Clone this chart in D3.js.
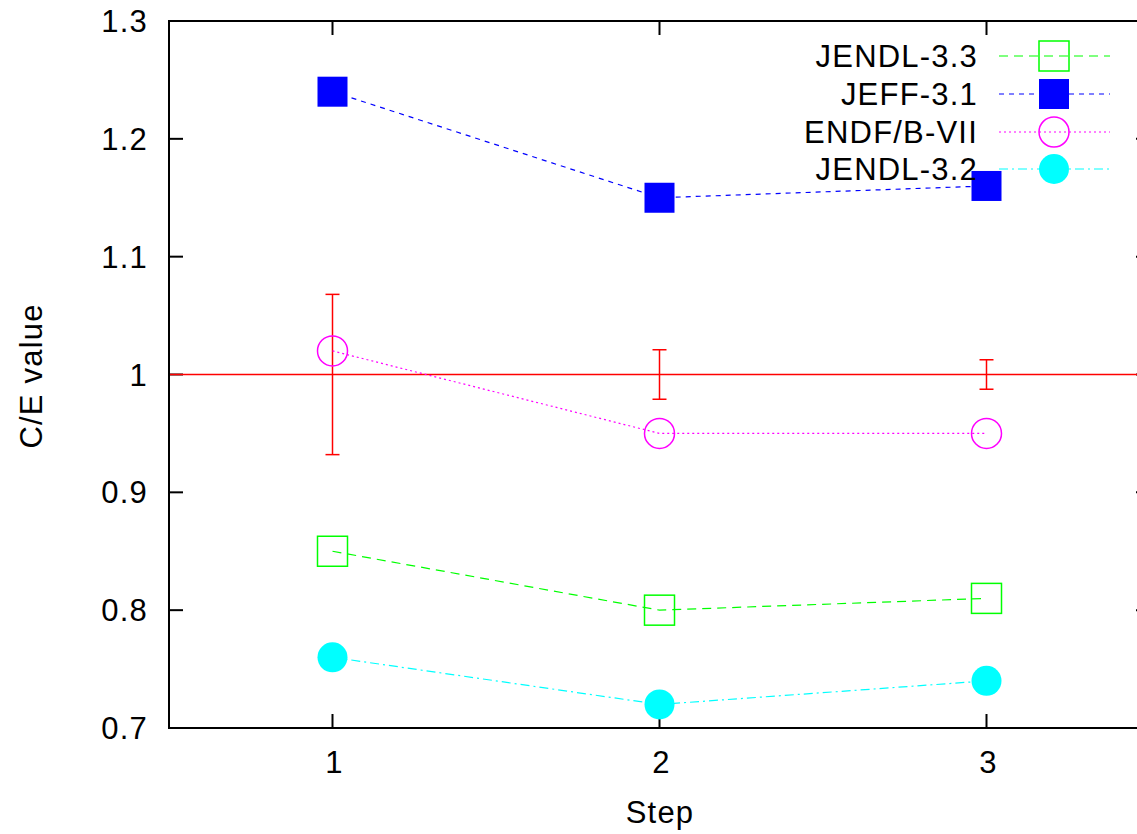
<!DOCTYPE html>
<html><head><meta charset="utf-8">
<script src="https://cdn.jsdelivr.net/npm/d3@7"></script>
<style>body{margin:0;background:#fff;}svg{display:block;}text{font-family:"Liberation Sans",Arial,sans-serif;letter-spacing:1.2px;}</style>
</head><body>
<script>
const steps = [1, 2, 3];
const jendl33 = [0.85, 0.80, 0.81];
const jeff31 = [1.24, 1.15, 1.16];
const endfb7 = [1.02, 0.95, 0.95];
const jendl32 = [0.76, 0.72, 0.74];
const expValue = [1, 1, 1];
const expError = [0.068, 0.021, 0.0125];
const yTicks = [0.7, 0.8, 0.9, 1, 1.1, 1.2, 1.3];
const xTicks = [1, 2, 3];
const seriesNames = ["JENDL-3.3", "JEFF-3.1", "ENDF/B-VII", "JENDL-3.2"];

const W = 1137, H = 834;
const FS = 31;
const m = {left: 169, top: 21, right: 1150, bottom: 728};
const svg = d3.select("body").append("svg").attr("width", W).attr("height", H);
const x = d3.scaleLinear().domain([0.5, 3.5]).range([m.left, m.right]);
const y = d3.scaleLinear().domain([0.7, 1.3]).range([m.bottom, m.top]);

const series = [
  {name: seriesNames[0], vals: jendl33, color: "#00ff00", dash: "9,6", marker: "square", fill: false},
  {name: seriesNames[1], vals: jeff31, color: "#0000ff", dash: "5,5", marker: "square", fill: true},
  {name: seriesNames[2], vals: endfb7, color: "#ff00ff", dash: "2,3", marker: "circle", fill: false},
  {name: seriesNames[3], vals: jendl32, color: "#00ffff", dash: "9,4,2,4", marker: "circle", fill: true}
];

// ticks (inward)
const tl = 14;
yTicks.forEach(t => {
  svg.append("line").attr("x1", x(0.5)).attr("x2", x(0.5)+tl).attr("y1", y(t)).attr("y2", y(t)).attr("stroke","#000").attr("stroke-width",2);
  svg.append("line").attr("x1", x(3.5)).attr("x2", x(3.5)-tl).attr("y1", y(t)).attr("y2", y(t)).attr("stroke","#000").attr("stroke-width",2);
  svg.append("text").attr("x", 148).attr("y", y(t)+11).attr("text-anchor","end").attr("font-size",FS).text(d3.format("")(t));
});
xTicks.forEach(t => {
  svg.append("line").attr("x1", x(t)).attr("x2", x(t)).attr("y1", m.bottom).attr("y2", m.bottom-tl).attr("stroke","#000").attr("stroke-width",2);
  svg.append("line").attr("x1", x(t)).attr("x2", x(t)).attr("y1", m.top).attr("y2", m.top+tl).attr("stroke","#000").attr("stroke-width",2);
  svg.append("text").attr("x", x(t)+2).attr("y", 773).attr("text-anchor","middle").attr("font-size",FS).text(t);
});

// reference line at 1 and error bars
svg.append("line").attr("x1", x(0.5)).attr("x2", x(3.5)).attr("y1", y(1)).attr("y2", y(1)).attr("stroke","#ff0000").attr("stroke-width",1.5);
steps.forEach((s,i) => {
  const g = svg.append("g").attr("stroke","#ff0000").attr("stroke-width",1.5);
  g.append("line").attr("x1", x(s)).attr("x2", x(s)).attr("y1", y(expValue[i]-expError[i])).attr("y2", y(expValue[i]+expError[i]));
  [-1,1].forEach(sg => g.append("line").attr("x1", x(s)-7).attr("x2", x(s)+7).attr("y1", y(expValue[i]+sg*expError[i])).attr("y2", y(expValue[i]+sg*expError[i])));
});

function marker(g, cx, cy, s) {
  if (s.marker === "square") {
    g.append("rect").attr("x", cx-15).attr("y", cy-15).attr("width",30).attr("height",30)
      .attr("fill", s.fill ? s.color : "none").attr("stroke", s.color).attr("stroke-width", s.fill?0:1.5);
  } else {
    g.append("circle").attr("cx", cx).attr("cy", cy).attr("r", 15)
      .attr("fill", s.fill ? s.color : "none").attr("stroke", s.color).attr("stroke-width", s.fill?0:1.5);
  }
}

const line = d3.line().x((d,i)=>x(steps[i])).y(d=>y(d));
const legendY = [56, 94, 132, 169];
series.forEach((s, k) => {
  const g = svg.append("g");
  g.append("path").attr("d", line(s.vals)).attr("fill","none").attr("stroke", s.color).attr("stroke-width",1.2).attr("stroke-dasharray", s.dash);
  s.vals.forEach((v,i) => marker(g, x(steps[i]), y(v), s));
  // legend
  const ly = legendY[k];
  const lg = svg.append("g");
  lg.append("text").attr("x", 978).attr("y", ly+11).attr("text-anchor","end").attr("font-size",FS).text(s.name);
  lg.append("line").attr("x1", 999).attr("x2", 1110).attr("y1", ly).attr("y2", ly).attr("stroke", s.color).attr("stroke-width",1.2).attr("stroke-dasharray", s.dash);
  marker(lg, 1054, ly, s);
});

// frame
svg.append("path").attr("d", `M${m.right},${m.top}H${m.left}V${m.bottom}H${m.right}`).attr("fill","none").attr("stroke","#000").attr("stroke-width",2);
svg.append("line").attr("x1", m.right).attr("x2", m.right).attr("y1", m.top).attr("y2", m.bottom).attr("stroke","#000").attr("stroke-width",2);

svg.append("text").attr("x", 660).attr("y", 823).attr("text-anchor","middle").attr("font-size",FS).text("Step");
svg.append("text").attr("transform", `translate(42,376) rotate(-90)`).attr("text-anchor","middle").attr("font-size",FS).text("C/E value");
</script>
</body></html>
